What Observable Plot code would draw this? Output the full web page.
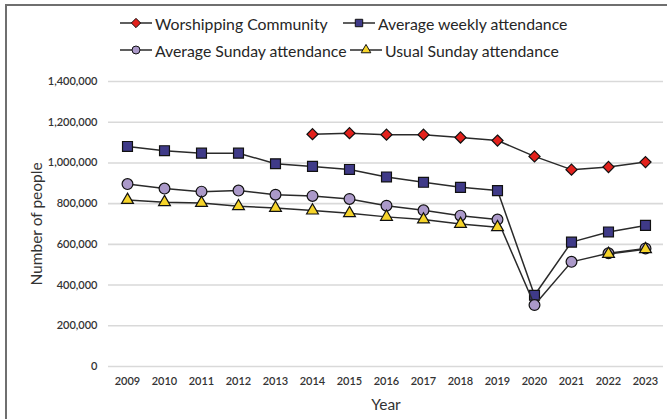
<!DOCTYPE html>
<html>
<head>
<meta charset="utf-8">
<script src="https://cdn.jsdelivr.net/npm/d3@7"></script>
<script src="https://cdn.jsdelivr.net/npm/@observablehq/plot@0.6"></script>
<style>
  html, body { margin: 0; padding: 0; background: #fff; }
  #wrap { position: relative; width: 667px; height: 419px; overflow: hidden; font-family: Lato, "Open Sans", sans-serif; }
  #frame { position: absolute; left: 5px; top: 4px; right: -10px; bottom: -10px; border-left: 2px solid #6f6f6f; border-top: 2px solid #6f6f6f; pointer-events: none; }
  .leg { position: absolute; display: flex; align-items: center; font-size: 15.8px; color: #262626; white-space: nowrap; height: 20px; }
  .leg svg { display: block; margin-right: 3px; }
  #chart { position: absolute; left: 0; top: 0; }
</style>
</head>
<body>
<div id="wrap">
  <div id="chart"></div>
  <div id="legend"></div>
  <div id="frame"></div>
</div>
<script>
const years = [2009, 2010, 2011, 2012, 2013, 2014, 2015, 2016, 2017, 2018, 2019, 2020, 2021, 2022, 2023];
const worshippingCommunity = [null, null, null, null, null, 1141000, 1146000, 1139000, 1139000, 1125000, 1110000, 1032000, 967000, 980000, 1004000];
const averageWeekly = [1081000, 1060000, 1048000, 1048000, 996000, 983000, 968000, 931000, 905000, 880000, 864000, 350000, 611000, 661000, 693000];
const averageSunday = [896000, 874000, 859000, 864000, 844000, 838000, 823000, 790000, 767000, 741000, 722000, 302000, 514000, 556000, 580000];
const usualSunday = [818000, 807000, 803000, 787000, 779000, 766000, 753000, 735000, 722000, 700000, 684000, null, null, 553000, 576000];
const seriesNames = ["Worshipping Community", "Average weekly attendance", "Average Sunday attendance", "Usual Sunday attendance"];
const yTicks = [0, 200000, 400000, 600000, 800000, 1000000, 1200000, 1400000];

const seriesValues = [worshippingCommunity, averageWeekly, averageSunday, usualSunday];
const fills = ["#e3211c", "#3f3a88", "#ab99c9", "#f6d42a"];
const symbols = ["diamond2", "square", "circle", "triangle"];
const radii = [5.0, 5.6, 5.4, 4.4];

const data = seriesNames.map((name, i) =>
  years.map((year, j) => ({ year, value: seriesValues[i][j], series: name }))
);

const marks = [
  Plot.ruleY(yTicks, { stroke: "#d9d9d9", strokeWidth: 1.6 }),
  Plot.axisY({ ticks: yTicks, tickSize: 0, tickPadding: 11, tickFormat: d3.format(","), fontSize: 11, fontWeight: 600, fill: "#333",
    label: "Number of people", labelAnchor: "center", labelArrow: "none", labelOffset: 78 }),
  Plot.axisX({ tickSize: 0, tickPadding: 11, fontSize: 11, fontWeight: 600, fill: "#333", tickFormat: d => String(d),
    label: "Year", labelAnchor: "center", labelArrow: "none", labelOffset: 43 })
];

data.forEach((rows, i) => {
  const defined = rows.filter(d => d.value != null);
  marks.push(Plot.line(rows, { x: "year", y: "value", stroke: "#2a2a2a", strokeWidth: 1.5 }));
  marks.push(Plot.dot(defined, { x: "year", y: "value", symbol: () => symbols[i], r: radii[i], fill: fills[i], stroke: "#111", strokeWidth: 1.2 }));
});

const chart = Plot.plot({
  width: 667,
  height: 419,
  marginTop: 81,
  marginBottom: 53,
  marginLeft: 108,
  marginRight: 4,
  style: { fontFamily: "Lato, 'Open Sans', sans-serif", background: "transparent" },
  x: { type: "point", domain: years, padding: 0.5, axis: null },
  y: { domain: [0, 1400000], axis: null },
  symbol: { type: "identity" },
  marks
});
// enlarge axis titles to match reference
chart.querySelectorAll("[aria-label='y-axis label'] text, [aria-label='x-axis label'] text").forEach(t => {
  t.setAttribute("font-size", "15.5");
  t.setAttribute("font-weight", "normal");
});
document.getElementById("chart").appendChild(chart);

// Legend
const legendPos = [
  { left: 120, top: 13 },
  { left: 343, top: 13 },
  { left: 120, top: 40 },
  { left: 350, top: 40 }
];
const legend = document.getElementById("legend");
seriesNames.forEach((name, i) => {
  const item = document.createElement("div");
  item.className = "leg";
  item.style.left = legendPos[i].left + "px";
  item.style.top = legendPos[i].top + "px";
  const w = 32, h = 14;
  const sym = d3.symbol(d3[{ diamond2: "symbolDiamond2", square: "symbolSquare", circle: "symbolCircle", triangle: "symbolTriangle" }[symbols[i]]], [55, 55, 50, 40][i])();
  item.innerHTML =
    `<svg width="${w}" height="${h}"><line x1="0" x2="${w}" y1="${h / 2}" y2="${h / 2}" stroke="#2a2a2a" stroke-width="1.5"/>` +
    `<path d="${sym}" transform="translate(${w / 2},${h / 2})" fill="${fills[i]}" stroke="#111" stroke-width="1"/></svg>` +
    `<span>${name}</span>`;
  legend.appendChild(item);
});
</script>
</body>
</html>
